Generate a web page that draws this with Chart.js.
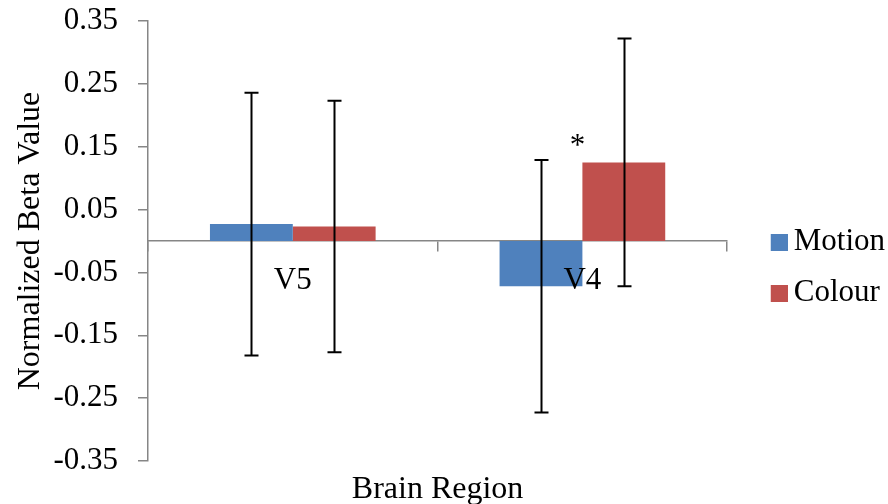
<!DOCTYPE html>
<html>
<head>
<meta charset="utf-8">
<title>Normalized Beta Value by Brain Region</title>
<script src="https://cdn.jsdelivr.net/npm/chart.js@4/dist/chart.umd.min.js"></script>
<style>
  html, body { margin: 0; padding: 0; background: #ffffff; }
  #wrap { width: 888px; height: 504px; }
</style>
</head>
<body>
<div id="wrap"><canvas id="chart" width="888" height="504"></canvas></div>
<script>
// Regions on the x axis
const regions = ['V5', 'V4'];

// Mean normalized beta values per condition
const motionValues = [0.027, -0.072];
const colourValues = [0.023, 0.125];

// Error bar half-lengths (symmetric)
const motionErrors = [0.209, 0.201];
const colourErrors = [0.200, 0.197];

// Significance markers drawn above the bars
const motionMarks = ['', ''];
const colourMarks = ['', '*'];

// Y axis tick values
const yTicks = [-0.35, -0.25, -0.15, -0.05, 0.05, 0.15, 0.25, 0.35];

const FONT = 'Liberation Serif';
const AXIS_GREY = '#868686';

Chart.defaults.font.family = FONT;
Chart.defaults.color = '#000000';

// Legend swatch: square flush against the label text
function swatch(color) {
  const c = document.createElement('canvas');
  c.width = 50; c.height = 17;
  const g = c.getContext('2d');
  g.fillStyle = color;
  g.fillRect(33, 0, 17, 17);
  return c;
}

const errorBars = {
  id: 'errorBars',
  afterDatasetsDraw(chart) {
    const ctx = chart.ctx;
    const y = chart.scales.y;
    ctx.save();
    ctx.strokeStyle = '#000000';
    ctx.lineWidth = 2;
    chart.data.datasets.forEach((ds, i) => {
      const meta = chart.getDatasetMeta(i);
      meta.data.forEach((bar, j) => {
        const v = ds.data[j];
        const e = ds.errors[j];
        const top = y.getPixelForValue(v + e);
        const bot = y.getPixelForValue(v - e);
        const x = Math.round(bar.x) + 0.5;
        ctx.beginPath();
        ctx.moveTo(x, top); ctx.lineTo(x, bot);
        ctx.moveTo(x - 7, top); ctx.lineTo(x + 7, top);
        ctx.moveTo(x - 7, bot); ctx.lineTo(x + 7, bot);
        ctx.stroke();
      });
    });
    ctx.restore();
  }
};

const sigMarks = {
  id: 'sigMarks',
  afterDatasetsDraw(chart) {
    const ctx = chart.ctx;
    const y = chart.scales.y;
    ctx.save();
    ctx.fillStyle = '#000000';
    ctx.font = '31px "' + FONT + '"';
    ctx.textAlign = 'center';
    ctx.textBaseline = 'alphabetic';
    chart.data.datasets.forEach((ds, i) => {
      const meta = chart.getDatasetMeta(i);
      meta.data.forEach((bar, j) => {
        const mark = ds.marks[j];
        if (!mark) return;
        const x = bar.x - bar.width / 2 - 5;
        const yy = y.getPixelForValue(ds.data[j]) - 7;
        ctx.fillText(mark, x, yy);
      });
    });
    ctx.restore();
  }
};

new Chart(document.getElementById('chart'), {
  type: 'bar',
  data: {
    labels: regions,
    datasets: [
      { label: 'Motion', data: motionValues, errors: motionErrors, marks: motionMarks,
        backgroundColor: '#4F81BD', borderWidth: 0 },
      { label: 'Colour', data: colourValues, errors: colourErrors, marks: colourMarks,
        backgroundColor: '#C0504D', borderWidth: 0 }
    ]
  },
  options: {
    responsive: false,
    animation: false,
    devicePixelRatio: 1,
    datasets: { bar: { barPercentage: 1.0, categoryPercentage: 0.572 } },
    layout: { padding: { left: 7, right: -7, top: 0, bottom: -31 } },
    scales: {
      x: {
        type: 'category',
        position: { y: 0 },
        offset: true,
        grid: { display: true, offset: true, drawOnChartArea: false, drawTicks: true,
                tickLength: 10, color: AXIS_GREY, lineWidth: 1.5 },
        border: { display: true, color: AXIS_GREY, width: 1.5 },
        ticks: { font: { size: 31 }, color: '#000000', padding: 11, maxRotation: 0, z: 1 }
      },
      y: {
        position: 'left',
        min: -0.35,
        max: 0.35,
        afterBuildTicks(scale) { scale.ticks = yTicks.map(v => ({ value: v })); },
        afterFit(scale) {
          scale.width -= 20;
          scale.paddingTop = 21;
          scale.paddingBottom = 21;
        },
        grid: { display: true, drawOnChartArea: false, drawTicks: true,
                tickLength: 10, color: AXIS_GREY, lineWidth: 1.5 },
        border: { display: true, color: AXIS_GREY, width: 1.5 },
        ticks: { font: { size: 31 }, color: '#000000', padding: 20,
                 callback: v => v.toFixed(2) },
        title: { display: true, text: 'Normalized Beta Value', font: { size: 32 },
                 color: '#000000', padding: { top: 4, bottom: 4 } }
      }
    },
    plugins: {
      legend: {
        position: 'right',
        align: 'center',
        labels: {
          font: { size: 31 },
          color: '#000000',
          padding: 20,
          usePointStyle: true,
          pointStyleWidth: 31,
          generateLabels(chart) {
            const items = Chart.defaults.plugins.legend.labels.generateLabels(chart);
            items.forEach(it => { it.pointStyle = swatch(it.fillStyle); it.lineWidth = 0; });
            return items;
          }
        }
      },
      title: {
        display: true,
        text: 'Brain Region',
        position: 'bottom',
        fullSize: false,
        font: { size: 32, weight: 'normal' },
        color: '#000000',
        padding: { top: 9, bottom: 26.6 }
      },
      tooltip: { enabled: false }
    }
  },
  plugins: [errorBars, sigMarks]
});
</script>
</body>
</html>
